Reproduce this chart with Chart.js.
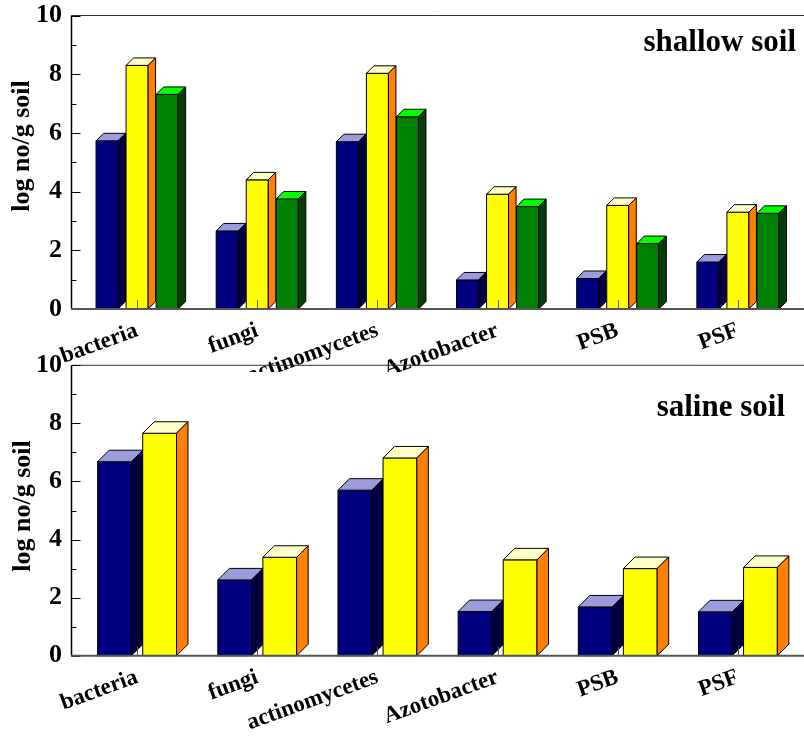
<!DOCTYPE html>
<html>
<head>
<meta charset="utf-8">
<script src="https://cdn.jsdelivr.net/npm/chart.js@4"></script>
<style>
  body { margin: 0; background: #fff; }
  #wrap { position: relative; width: 804px; height: 736px; overflow: hidden; }
  canvas { position: absolute; left: 0; }
</style>
</head>
<body>
<div id="wrap">
  <canvas id="shallow" width="804" height="372" style="top:0"></canvas>
  <canvas id="saline" width="804" height="386" style="top:350px"></canvas>
</div>
<script>
const categories = ['bacteria', 'fungi', 'actinomycetes', 'Azotobacter', 'PSB', 'PSF'];

// shallow soil, three series
const shallowNavy   = [5.73, 2.66, 5.70, 0.99, 1.04, 1.60];
const shallowYellow = [8.30, 4.40, 8.03, 3.91, 3.53, 3.30];
const shallowGreen  = [7.31, 3.75, 6.55, 3.49, 2.23, 3.26];

// saline soil, two series
const salineNavy   = [6.68, 2.61, 5.70, 1.52, 1.68, 1.51];
const salineYellow = [7.66, 3.39, 6.81, 3.30, 3.00, 3.04];

const yTickValues = [0, 2, 4, 6, 8, 10];

const SERIF = '"Liberation Serif", "Times New Roman", serif';

const palette = [
  { front: '#000080', top: '#9c9cdc', side: '#000040' },
  { front: '#ffff00', top: '#ffffc8', side: '#ff8000' },
  { front: '#008000', top: '#00ff00', side: '#004000' }
];

// draws the frame and the bars as 3d boxes, from the bar elements chart.js laid out
const bars3d = {
  id: 'bars3d',
  beforeDatasetsDraw(chart, args, opts) {
    const { ctx, chartArea: a, scales: { y } } = chart;
    const axisX = 71.5;
    ctx.save();

    // frame
    ctx.strokeStyle = '#333';
    ctx.lineWidth = 1;
    ctx.beginPath();
    ctx.moveTo(axisX, a.top); ctx.lineTo(chart.width, a.top);
    ctx.stroke();

    ctx.strokeStyle = '#000';
    ctx.lineWidth = 1.5;
    ctx.beginPath();
    ctx.moveTo(axisX, a.top); ctx.lineTo(axisX, a.bottom);
    ctx.stroke();

    // y ticks, inward; minor ones halfway
    ctx.lineWidth = 1;
    yTickValues.forEach((v, i) => {
      const py = Math.round(y.getPixelForValue(v)) + 0.5;
      ctx.beginPath(); ctx.moveTo(axisX, py); ctx.lineTo(axisX + 9, py); ctx.stroke();
      if (i < yTickValues.length - 1) {
        const my = Math.round(y.getPixelForValue((v + yTickValues[i + 1]) / 2)) + 0.5;
        ctx.beginPath(); ctx.moveTo(axisX, my); ctx.lineTo(axisX + 5, my); ctx.stroke();
      }
    });

    // bars
    const d = opts.depth;
    ctx.lineWidth = 1;
    ctx.strokeStyle = '#000';
    ctx.lineJoin = 'miter';
    chart.data.datasets.forEach((ds, di) => {
      const col = palette[di];
      chart.getDatasetMeta(di).data.forEach(bar => {
        const p = bar.getProps(['x', 'y', 'base', 'width'], true);
        const l = p.x - p.width / 2, r = p.x + p.width / 2, t = p.y, b = p.base;

        ctx.fillStyle = col.front;
        ctx.beginPath();
        ctx.rect(l, t, r - l, b - t);
        ctx.fill(); ctx.stroke();

        ctx.fillStyle = col.top;
        ctx.beginPath();
        ctx.moveTo(l, t); ctx.lineTo(l + d, t - d); ctx.lineTo(r + d, t - d); ctx.lineTo(r, t);
        ctx.closePath();
        ctx.fill(); ctx.stroke();

        ctx.fillStyle = col.side;
        ctx.beginPath();
        ctx.moveTo(r, t); ctx.lineTo(r + d, t - d); ctx.lineTo(r + d, b - d); ctx.lineTo(r, b);
        ctx.closePath();
        ctx.fill(); ctx.stroke();
      });
    });

    // x axis line
    ctx.strokeStyle = '#555';
    ctx.lineWidth = 2;
    ctx.beginPath();
    ctx.moveTo(axisX - 0.5, a.bottom); ctx.lineTo(chart.width, a.bottom);
    ctx.stroke();

    ctx.restore();
    return false;
  },
  afterDraw(chart, args, opts) {
    const { ctx, chartArea: a, scales: { x } } = chart;
    ctx.save();

    // category ticks pointing up
    ctx.strokeStyle = '#555';
    ctx.lineWidth = 1;
    categories.forEach((c, i) => {
      const px = Math.round(x.getPixelForValue(i)) + 0.5;
      ctx.beginPath(); ctx.moveTo(px, a.bottom); ctx.lineTo(px, a.bottom - 9); ctx.stroke();
    });

    ctx.fillStyle = '#000';
    ctx.font = 'bold 31px ' + SERIF;
    ctx.textAlign = 'right';
    ctx.textBaseline = 'alphabetic';
    ctx.fillText(opts.label, opts.labelX, opts.labelY);

    ctx.translate(opts.yTitleX, opts.yTitleY);
    ctx.rotate(-Math.PI / 2);
    ctx.font = 'bold 26px ' + SERIF;
    ctx.textAlign = 'center';
    ctx.textBaseline = 'middle';
    ctx.fillText('log no/g soil', 0, 0);
    ctx.restore();
  }
};

function makeChart(id, series, barPct, xHeight, padTop, opts) {
  return new Chart(document.getElementById(id), {
    type: 'bar',
    data: {
      labels: categories,
      datasets: series.map((s, i) => ({
        label: 'series ' + (i + 1),
        data: s,
        backgroundColor: palette[i].front,
        categoryPercentage: 0.75,
        barPercentage: barPct
      }))
    },
    options: {
      responsive: false,
      animation: false,
      events: [],
      layout: { padding: { top: padTop, right: 6, left: 0, bottom: 0 }, autoPadding: false },
      plugins: {
        legend: { display: false },
        tooltip: { enabled: false },
        bars3d: opts
      },
      scales: {
        x: {
          grid: { display: false },
          border: { display: false },
          ticks: {
            color: '#000',
            font: { family: SERIF, size: 23, weight: 'bold' },
            minRotation: 20,
            maxRotation: 20,
            padding: 0,
            autoSkip: false
          },
          afterFit: s => { s.height = xHeight; s.paddingLeft = 0; s.paddingRight = 0; }
        },
        y: {
          min: 0,
          max: 10,
          grid: { display: false, drawTicks: false },
          border: { display: false },
          afterBuildTicks: s => { s.ticks = yTickValues.map(v => ({ value: v })); },
          ticks: {
            color: '#000',
            font: { family: SERIF, size: 26, weight: 'bold' },
            padding: 15
          },
          afterFit: s => { s.width = 77; s.paddingTop = 0; s.paddingBottom = 0; }
        }
      }
    },
    plugins: [bars3d]
  });
}

makeChart('shallow', [shallowNavy, shallowYellow, shallowGreen], 0.733, 63, 15.5,
  { depth: 7.5, label: 'shallow soil', labelX: 796, labelY: 51, yTitleX: 22, yTitleY: 146 });

makeChart('saline', [salineNavy, salineYellow], 0.75, 80.3, 15.3,
  { depth: 11.5, label: 'saline soil', labelX: 785, labelY: 66, yTitleX: 23, yTitleY: 156 });
</script>
</body>
</html>
